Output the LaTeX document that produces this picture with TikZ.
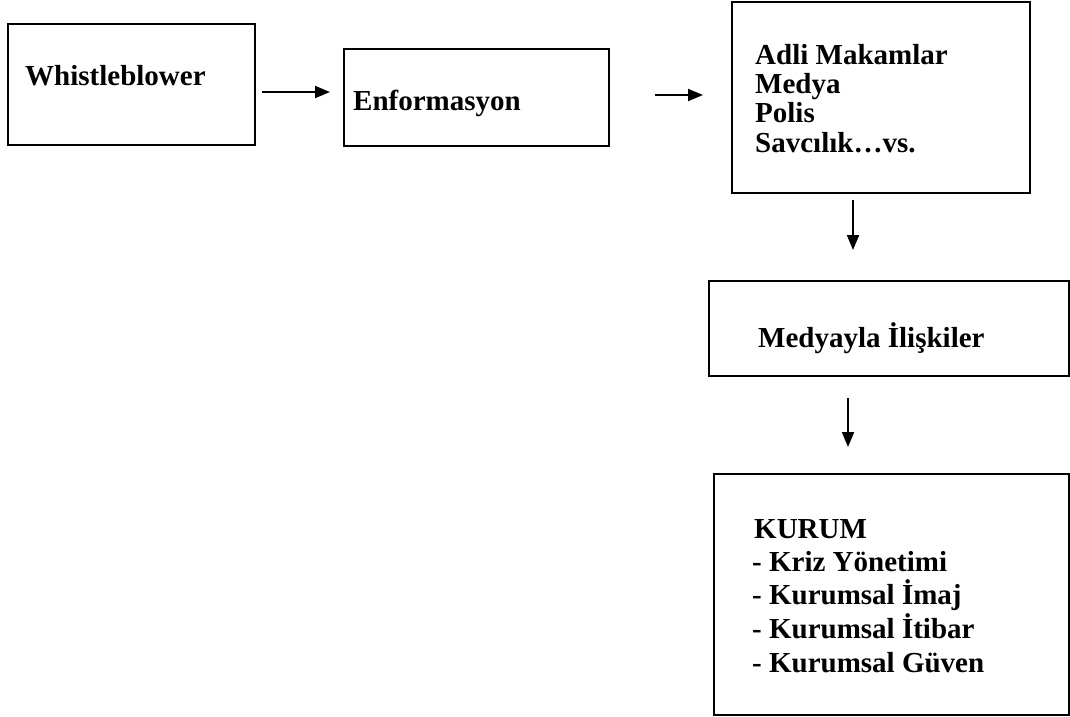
\documentclass[tikz,border=0pt]{standalone}
\usepackage{fontspec}
\setmainfont{Liberation Serif}
\usetikzlibrary{arrows.meta}
\begin{document}
\begin{tikzpicture}[x=1pt,y=-1pt,
  box/.style={draw=black,line width=2pt,rectangle,inner sep=0pt,anchor=north west},
  lbl/.style={anchor=base west,inner sep=0pt,font=\fontsize{29pt}{32pt}\selectfont\bfseries},
  conn/.style={line width=2pt,-{Triangle[length=15pt,width=12pt]}}]
\useasboundingbox (0,0) rectangle (1070,716);
% boxes
\node[box,minimum width=247pt,minimum height=121pt] (w) at (7,23) {};
\node[box,minimum width=265pt,minimum height=97pt] (e) at (343,48) {};
\node[box,minimum width=298pt,minimum height=191pt] (a) at (731,1) {};
\node[box,minimum width=360pt,minimum height=95pt] (m) at (708,280) {};
\node[box,minimum width=355pt,minimum height=241pt] (k) at (713,473) {};
% texts
\node[lbl] (wt) at (25,85) {Whistleblower};
\node[lbl] (et) at (353,110) {Enformasyon};
\node[lbl] (a1) at (755,64) {Adli Makamlar};
\node[lbl] (a2) at (755,93) {Medya};
\node[lbl] (a3) at (755,122) {Polis};
\node[lbl] (a4) at (755,152) {Savcılık…vs.};
\node[lbl] (mt) at (758,347) {Medyayla İlişkiler};
\node[lbl] (k1) at (754,538) {KURUM};
\node[lbl] (k2) at (752,571) {- Kriz Yönetimi};
\node[lbl] (k3) at (752,604) {- Kurumsal İmaj};
\node[lbl] (k4) at (752,638) {- Kurumsal İtibar};
\node[lbl] (k5) at (752,672) {- Kurumsal Güven};
% connector endpoints
\coordinate (c1s) at (262,92);  \coordinate (c1e) at (330,92);
\coordinate (c2s) at (655,95);  \coordinate (c2e) at (703,95);
\coordinate (c3s) at (853,200); \coordinate (c3e) at (853,250);
\coordinate (c4s) at (848,398); \coordinate (c4e) at (848,447);
\draw[conn] (c1s) -- (c1e);
\draw[conn] (c2s) -- (c2e);
\draw[conn] (c3s) -- (c3e);
\draw[conn] (c4s) -- (c4e);
\end{tikzpicture}
\end{document}
